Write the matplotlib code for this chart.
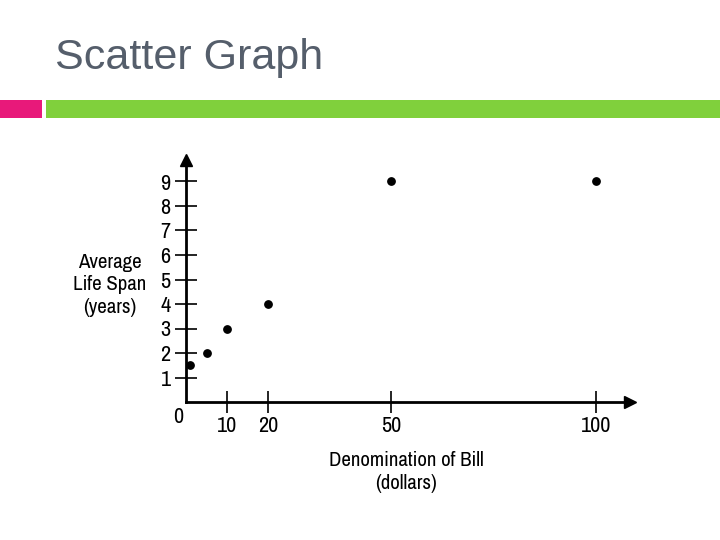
import matplotlib.pyplot as plt
from matplotlib.patches import Rectangle
from matplotlib import font_manager

denomination = [1, 5, 10, 20, 50, 100]
life_span = [1.5, 2, 3, 4, 9, 9]
x_ticks = [10, 20, 50, 100]
y_ticks = [1, 2, 3, 4, 5, 6, 7, 8, 9]

# use a condensed face for the graph text when one is installed
narrow = sorted({f.name for f in font_manager.fontManager.ttflist
                 if "Narrow" in f.name or "Condensed" in f.name})
plt.rcParams["font.family"] = narrow[:1] + ["Liberation Sans", "DejaVu Sans"]

fig = plt.figure(figsize=(7.2, 5.4), dpi=100)

# slide header
fig.text(55 / 720, 1 - 58 / 540, "Scatter Graph", fontsize=31, color="#555e6b",
         va="center", ha="left", family=["Liberation Sans", "DejaVu Sans"])
fig.add_artist(Rectangle((0, 1 - 118 / 540), 42 / 720, 18 / 540,
                         transform=fig.transFigure, color="#e8197a", lw=0))
fig.add_artist(Rectangle((46 / 720, 1 - 118 / 540), 674 / 720, 18 / 540,
                         transform=fig.transFigure, color="#80d03c", lw=0))

ax = fig.add_axes([186 / 720, 138 / 540, 444 / 720, 242 / 540])
ax.scatter(denomination, life_span, s=28, color="black", zorder=3)
ax.set_xlim(0, 444 / 4.1)
ax.set_ylim(0, 242 / 24.5)

for side in ["top", "right"]:
    ax.spines[side].set_visible(False)
for side in ["left", "bottom"]:
    ax.spines[side].set_linewidth(2)

ax.plot(1, 0, ">", color="black", markersize=8, transform=ax.transAxes, clip_on=False)
ax.plot(0, 1, "^", color="black", markersize=8, transform=ax.transAxes, clip_on=False)

ax.set_xticks(x_ticks)
ax.set_yticks(y_ticks)
ax.tick_params(direction="inout", length=16, width=1.2, labelsize=16, pad=2)
ax.tick_params(axis="y", pad=3)
ax.text(-2, -0.6, "0", fontsize=16, ha="center", va="center")

fig.text(110 / 720, 1 - 285 / 540, "Average\nLife Span\n(years)", fontsize=15,
         ha="center", va="center", linespacing=1.25)
fig.text(406 / 720, 1 - 472 / 540, "Denomination of Bill\n(dollars)", fontsize=15,
         ha="center", va="center", linespacing=1.25)

fig.savefig("out.png", dpi=100)
